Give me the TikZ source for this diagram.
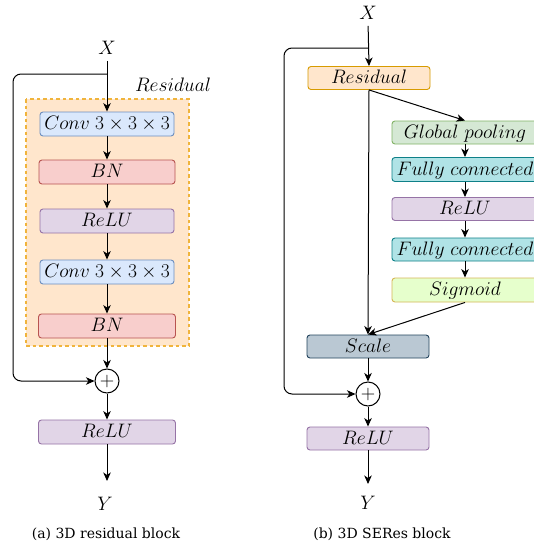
\RequirePackage{fix-cm}
\documentclass[tikz,border=0pt]{standalone}
\usepackage{fontspec}
\newfontfamily\capfont{DejaVu Serif}
\usetikzlibrary{arrows.meta}
\definecolor{cfill}{HTML}{DAE8FC}\definecolor{cline}{HTML}{6C8EBF}
\definecolor{bfill}{HTML}{F8CECC}\definecolor{bline}{HTML}{B85450}
\definecolor{rfill}{HTML}{E1D5E7}\definecolor{rline}{HTML}{9673A6}
\definecolor{ofill}{HTML}{FFE6CC}\definecolor{oline}{HTML}{D79B00}
\definecolor{dline}{HTML}{F0B43C}
\definecolor{gfill}{HTML}{D5E8D4}\definecolor{gline}{HTML}{82B366}
\definecolor{ffill}{HTML}{B0E3E6}\definecolor{fline}{HTML}{0E8088}
\definecolor{sfill}{HTML}{E6FFCC}\definecolor{sline}{HTML}{D6B656}
\definecolor{kfill}{HTML}{BAC8D3}\definecolor{kline}{HTML}{23445D}
\tikzset{
  bigtxt/.style={font=\fontsize{19.5}{22}\selectfont},
  box/.style={bigtxt, rectangle, rounded corners=3pt, draw, line width=0.9pt,
    minimum height=24pt, inner sep=0pt, text height=13pt, text depth=1.5pt, anchor=center},
  convbox/.style={box, fill=cfill, draw=cline},
  bnbox/.style={box, fill=bfill, draw=bline},
  relubox/.style={box, fill=rfill, draw=rline},
  resbox/.style={box, fill=ofill, draw=oline},
  gpbox/.style={box, fill=gfill, draw=gline},
  fcbox/.style={box, fill=ffill, draw=fline},
  sigbox/.style={box, fill=sfill, draw=sline},
  scbox/.style={box, fill=kfill, draw=kline},
  plusnode/.style={circle, draw, line width=1pt, minimum size=24pt, inner sep=0pt, fill=white, font=\fontsize{20}{22}\selectfont},
  lbl/.style={bigtxt, inner sep=1pt},
  captxt/.style={font=\capfont\fontsize{14}{16}\selectfont, inner sep=0pt},
  conn/.style={line width=1pt, -{Stealth[length=8.5pt,width=7.5pt,inset=2.5pt]}},
}
\begin{document}
\begin{tikzpicture}[x=1pt,y=-1pt]
\clip (0,0) rectangle (534,546);
\fill[white] (0,0) rectangle (534,546);

% ---------- (a) residual block ----------
\draw[fill=ofill, draw=dline, line width=1.2pt, dash pattern=on 3.5pt off 3pt] (26,99) rectangle (189,346);
\node[lbl] (resl) at (173,85) {$Residual$};
\node[lbl] (Xa) at (107,48) {$X$};
\node[convbox, minimum width=134pt] (c1) at (107,124) {$Conv\;3\times3\times3$};
\node[bnbox, minimum width=136pt] (b1) at (107,172) {$BN$};
\node[relubox, minimum width=134pt] (r1) at (107,221) {$ReLU$};
\node[convbox, minimum width=134pt] (c2) at (107,272) {$Conv\;3\times3\times3$};
\node[bnbox, minimum width=137pt] (b2) at (107,326) {$BN$};
\node[plusnode] (pa) at (107,381) {$+$};
\node[relubox, minimum width=137pt] (r2) at (107,432) {$ReLU$};
\node[lbl] (Ya) at (105,504) {$Y$};
\coordinate (brA) at (107,74);
\coordinate (endA) at (107,481);
\node[captxt] (capa) at (106,534) {(a) 3D residual block};

\draw[conn, shorten <=5pt] (Xa.south) -- (c1.north);
\draw[conn] (c1.south) -- (b1.north);
\draw[conn] (b1.south) -- (r1.north);
\draw[conn] (r1.south) -- (c2.north);
\draw[conn] (c2.south) -- (b2.north);
\draw[conn] (b2.south) -- (pa.north);
\draw[conn] (pa.south) -- (r2.north);
\draw[conn] (r2.south) -- (endA);
\draw[conn, rounded corners=8pt] (brA) -- (13,74) -- (13,381) -- (pa.west);

% ---------- (b) SERes block ----------
\node[lbl] (Xb) at (368,13) {$X$};
\node[resbox, minimum width=122pt, minimum height=23pt] (res) at (369,78) {$Residual$};
\node[gpbox, minimum width=146pt, minimum height=23pt] (gp) at (465,132.5) {$Global\ pooling$};
\node[fcbox, minimum width=146pt] (fc1) at (465,169.5) {$Fully\ connected$};
\node[relubox, minimum width=146pt, minimum height=23pt] (r3) at (465,209) {$ReLU$};
\node[fcbox, minimum width=146pt, minimum height=23pt] (fc2) at (465,249.5) {$Fully\ connected$};
\node[sigbox, minimum width=146pt] (sig) at (465,290) {$Sigmoid$};
\node[scbox, minimum width=122pt, minimum height=23pt] (sc) at (368,346.5) {$Scale$};
\node[plusnode] (pb) at (368,394) {$+$};
\node[relubox, minimum width=122pt, minimum height=23pt] (r4) at (368,438.5) {$ReLU$};
\node[lbl] (Yb) at (368,503) {$Y$};
\coordinate (brB) at (368,48);
\coordinate (endB) at (368,484);
\node[captxt] (capb) at (382,534) {(b) 3D SERes block};

\draw[conn, shorten <=5pt] (Xb.south) -- (res.north);
\draw[conn, rounded corners=8pt] (brB) -- (284,48) -- (284,394) -- (pb.west);
\draw[conn] (res.south) -- (sc.north);
\draw[conn] (res.south) -- (gp.north);
\draw[conn] (gp.south) -- (fc1.north);
\draw[conn] (fc1.south) -- (r3.north);
\draw[conn] (r3.south) -- (fc2.north);
\draw[conn] (fc2.south) -- (sig.north);
\draw[conn] (sig.south) -- (sc.north);
\draw[conn] (sc.south) -- (pb.north);
\draw[conn] (pb.south) -- (r4.north);
\draw[conn] (r4.south) -- (endB);
\end{tikzpicture}
\end{document}
